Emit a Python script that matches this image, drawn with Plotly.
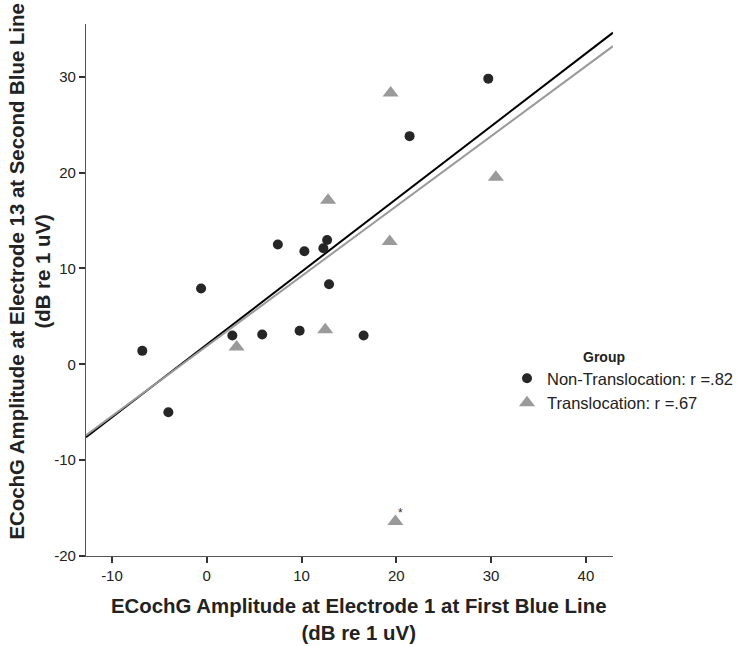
import plotly.graph_objects as go

# ---- data ----
non_x = [-6.8, -4.05, -0.6, 2.7, 5.85, 7.5, 9.8, 10.3, 12.3, 12.7, 12.9, 16.55, 21.4, 29.7]
non_y = [1.4, -5.0, 7.9, 3.0, 3.1, 12.5, 3.5, 11.8, 12.1, 12.96, 8.35, 3.0, 23.8, 29.8]
tr_x = [3.15, 12.5, 12.8, 19.3, 19.4, 30.5, 19.9]
tr_y = [1.8, 3.6, 17.1, 12.8, 28.3, 19.5, -16.4]
outlier_index = 6

group_names = ["Non-Translocation: r =.82", "Translocation: r =.67"]
fit_slope = [0.759, 0.730]
fit_intercept = [2.07, 1.90]

x_range = [-12.74, 42.86]
y_range = [-20.0, 35.5]
x_ticks = [-10, 0, 10, 20, 30, 40]
x_tick_labels = ["-10", "0", "10", "20", "30", "40"]
y_ticks = [-20, -10, 0, 10, 20, 30]
y_tick_labels = ["-20", "-10", "0", "10", "20", "30"]

FONT = "Liberation Sans, Arial, Helvetica, sans-serif"
DARK = "#262626"
GRAY = "#9a9a9a"

fig = go.Figure()

# regression lines
line_colors = ["#000000", "#9a9a9a"]
for s, b, c in zip(fit_slope, fit_intercept, line_colors):
    fig.add_trace(go.Scatter(
        x=x_range, y=[b + s * x_range[0], b + s * x_range[1]],
        mode="lines", line=dict(color=c, width=2), showlegend=False,
        hoverinfo="skip"))

fig.add_trace(go.Scatter(
    x=non_x, y=non_y, mode="markers", name=group_names[0],
    marker=dict(symbol="circle", size=10, color=DARK)))
fig.add_trace(go.Scatter(
    x=tr_x, y=tr_y, mode="markers", name=group_names[1],
    marker=dict(symbol="triangle-up", size=14, color=GRAY)))

# asterisk marking the outlier
fig.add_annotation(x=tr_x[outlier_index], y=tr_y[outlier_index], text="*",
                   showarrow=False, xshift=5, yshift=8,
                   font=dict(family=FONT, size=12, color="#333333"))

L, R, T, B = 86, 126, 24, 90
W, H = 739, 646
pw, ph = W - L - R, H - T - B

# axis titles
fig.add_annotation(xref="paper", yref="paper",
                   x=(359 - L) / pw, y=-(619.5 - (T + ph)) / ph,
                   xanchor="center", yanchor="middle", showarrow=False,
                   text="<b>ECochG Amplitude at Electrode 1 at First Blue Line</b><br><b>(dB re 1 uV)</b>",
                   font=dict(family=FONT, size=20.4, color="#222222"))
fig.add_annotation(xref="paper", yref="paper",
                   x=(29.5 - L) / pw, y=((T + ph) - 272) / ph,
                   xanchor="center", yanchor="middle", showarrow=False, textangle=-90,
                   text="<b>ECochG Amplitude at Electrode 13 at Second Blue Line</b><br><b>(dB re 1 uV)</b>",
                   font=dict(family=FONT, size=20.4, color="#222222"))
# legend title
fig.add_annotation(xref="paper", yref="paper",
                   x=(604 - L) / pw, y=((T + ph) - 357) / ph,
                   xanchor="center", yanchor="middle", showarrow=False,
                   text="<b>Group</b>",
                   font=dict(family=FONT, size=14, color="#222222"))

axis_common = dict(showgrid=False, zeroline=False, showline=True,
                   linecolor="#555555", linewidth=1.3, ticks="outside",
                   ticklen=6, tickwidth=1.6, tickcolor="#333333",
                   automargin=False,
                   tickfont=dict(family=FONT, size=15, color="#222222"))

fig.update_layout(
    width=W, height=H,
    margin=dict(l=L, r=R, t=T, b=B, autoexpand=False),
    paper_bgcolor="white", plot_bgcolor="white",
    font=dict(family=FONT, color="#222222"),
    xaxis=dict(range=x_range, tickvals=x_ticks, ticktext=x_tick_labels, **axis_common),
    yaxis=dict(range=y_range, tickvals=y_ticks, ticktext=y_tick_labels, **axis_common),
    legend=dict(xref="container", yref="container",
                x=507 / W, y=1 - 361 / H, xanchor="left", yanchor="top",
                font=dict(family=FONT, size=16.5, color="#222222"),
                bgcolor="rgba(0,0,0,0)", itemwidth=30, tracegroupgap=0),
)

fig.write_html("out.html", config={"displayModeBar": False},
               post_script="document.body.style.margin='0px';document.body.style.overflow='hidden';")
